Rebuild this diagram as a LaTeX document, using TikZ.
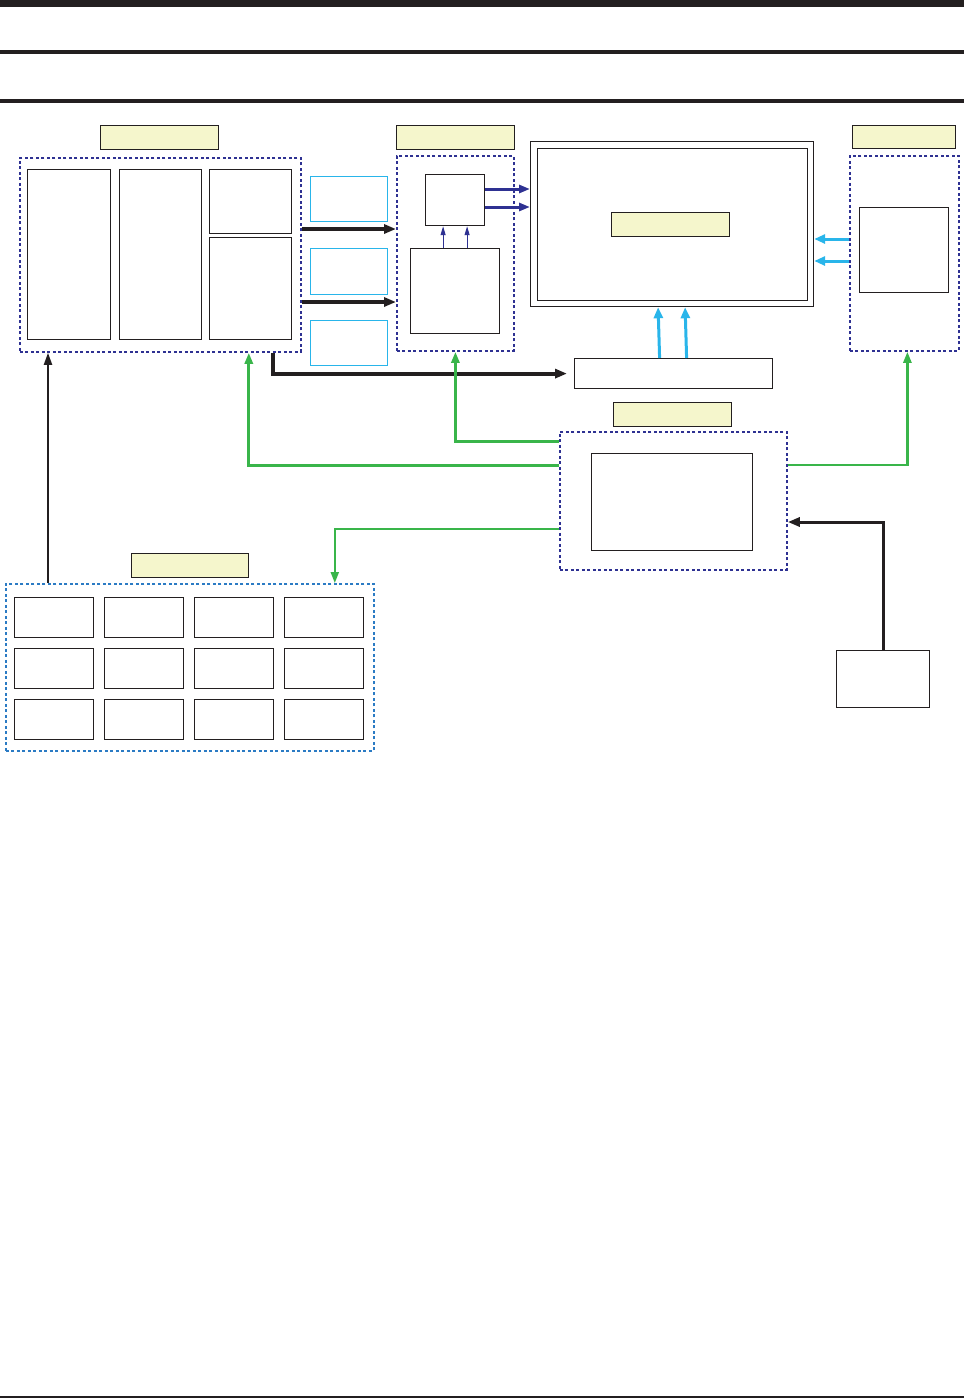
\documentclass[tikz,border=0pt]{standalone}
\usepackage{xcolor}
\usepackage{tikz}
\usetikzlibrary{
  arrows.meta,
  positioning,
  calc
}
\definecolor{DarkLine}{HTML}{231F20}
\definecolor{TagYellow}{HTML}{F5F6CC}
\definecolor{GroupNavy}{HTML}{2E3192}
\definecolor{GroupBlue}{HTML}{2B7BC4}
\definecolor{SigCyan}{HTML}{29B5EA}
\definecolor{CtrlGreen}{HTML}{39B54A}
\tikzset{
  box/.style={
    draw=DarkLine,
    line width=1.2pt,
    fill=white,
    inner sep=0pt,
    anchor=north west
  },
  tag/.style={
    box,
    fill=TagYellow
  },
  sigbox/.style={
    box,
    draw=SigCyan
  },
  group/.style={
    draw=GroupNavy,
    line width=1.8pt,
    dash pattern=on 3pt off 2.5pt,
    inner sep=0pt,
    anchor=north west
  },
  keygroup/.style={
    group,
    draw=GroupBlue
  },
  bus/.style={
    -{Triangle[length=12pt,width=9pt]},
    line width=4pt,
    draw=DarkLine
  },
  control/.style={
    -{Triangle[length=11pt,width=8pt]},
    line width=3pt,
    draw=CtrlGreen
  },
  video/.style={
    -{Triangle[length=11pt,width=8pt]},
    line width=3pt,
    draw=GroupNavy
  },
  light/.style={
    -{Triangle[length=11pt,width=9pt]},
    line width=3pt,
    draw=SigCyan
  },
  feed/.style={
    -{Triangle[length=9pt,width=5pt]},
    line width=1pt,
    draw=GroupNavy
  }
}
\begin{document}
\begin{tikzpicture}[x=1pt,y=-1pt]

  \useasboundingbox (0,0) rectangle (964,1398);

  % page rules
  \fill[DarkLine] (0,0) rectangle (964,7);
  \fill[DarkLine] (0,50) rectangle (964,53.5);
  \fill[DarkLine] (0,99) rectangle (964,102.5);
  \fill[DarkLine] (0,1396) rectangle (964,1398);

  % main board
  \node[tag, minimum width=118pt, minimum height=24pt] (maintag) at (100,125) {};
  \node[group, minimum width=281pt, minimum height=194pt] (mainboard) at (19,157) {};
  \node[box, minimum width=83pt, minimum height=170pt] (cpuA) at (27,169) {};
  \node[box, minimum width=82pt, minimum height=170pt] (cpuB) at (119,169) {};
  \node[box, minimum width=82pt, minimum height=64pt] (memA) at (209,169) {};
  \node[box, minimum width=82pt, minimum height=102pt] (memB) at (209,237) {};

  % signal boxes
  \node[sigbox, minimum width=77pt, minimum height=45pt] (sigA) at (310,176) {};
  \node[sigbox, minimum width=77pt, minimum height=46pt] (sigB) at (310,248) {};
  \node[sigbox, minimum width=77pt, minimum height=45pt] (sigC) at (310,320) {};

  % lcd interface
  \node[tag, minimum width=118pt, minimum height=24pt] (lcdtag) at (396,125) {};
  \node[group, minimum width=117pt, minimum height=195pt] (lcdgroup) at (396,155) {};
  \node[box, minimum width=59pt, minimum height=51pt] (tcon) at (425,174) {};
  \node[box, minimum width=89pt, minimum height=85pt] (driver) at (410,248) {};

  % panel
  \node[box, minimum width=283pt, minimum height=165pt] (panel) at (530,141) {};
  \node[box, minimum width=270pt, minimum height=152pt] (panelin) at (537,148) {};
  \node[tag, minimum width=118pt, minimum height=24pt] (paneltag) at (611,212) {};
  \node[box, minimum width=198pt, minimum height=30pt] (gatebus) at (574,358) {};

  % backlight
  \node[tag, minimum width=103pt, minimum height=23pt] (bltag) at (852,125) {};
  \node[group, minimum width=109pt, minimum height=195pt] (blgroup) at (849,155) {};
  \node[box, minimum width=89pt, minimum height=85pt] (inverter) at (859,207) {};

  % controller
  \node[tag, minimum width=118pt, minimum height=24pt] (ctrltag) at (613,402) {};
  \node[group, minimum width=227pt, minimum height=138pt] (ctrl) at (559,431) {};
  \node[box, minimum width=161pt, minimum height=97pt] (ctrlchip) at (591,453) {};

  % keys
  \node[tag, minimum width=117pt, minimum height=24pt] (keytag) at (131,553) {};
  \node[keygroup, minimum width=368pt, minimum height=167pt] (keys) at (5,583) {};
  \foreach \r in {1,2,3} {
    \foreach \c in {1,...,4} {
      \node[box, minimum width=79pt, minimum height=40pt]
      (key\r\c) at ({14+90*(\c-1)},{597+51*(\r-1)}) {};
    }
  }

  % power input
  \node[box, minimum width=93pt, minimum height=57pt] (power) at (836,650) {};

  % buses
  \draw[bus]
  (mainboard.east |- 0,229) --
  (lcdgroup.west |- 0,229);

  \draw[bus]
  (mainboard.east |- 0,302) --
  (lcdgroup.west |- 0,302);

  \draw[bus, shorten >=7pt]
  ($(mainboard.south east)+(-29,0)$) |-
  (gatebus.west);

  \draw[bus, line width=2pt, -{Triangle[length=12pt,width=8pt]}]
  ($(keys.north west)+(43,0)$) --
  ($(mainboard.south west)+(29,0)$);

  \draw[bus, line width=3pt]
  (power.north) |-
  (ctrl.east |- 0,522);

  % video and light
  \draw[video]
  (tcon.east |- 0,189) --
  (panel.west |- 0,189);

  \draw[video]
  (tcon.east |- 0,207) --
  (panel.west |- 0,207);

  \draw[feed]
  ($(driver.north)+(-12,0)$) --
  ($(tcon.south)+(-12,0)$);

  \draw[feed]
  ($(driver.north)+(12,0)$) --
  ($(tcon.south)+(12,0)$);

  \draw[light]
  ($(gatebus.north)+(-14,0)$) --
  ($(panel.south)+(-14,0)$);

  \draw[light]
  ($(gatebus.north)+(13,0)$) --
  ($(panel.south)+(13,0)$);

  \draw[light]
  (blgroup.west |- 0,239) --
  (panel.east |- 0,239);

  \draw[light]
  (blgroup.west |- 0,261) --
  (panel.east |- 0,261);

  % control lines
  \draw[control]
  (ctrl.west |- 0,441) -|
  (lcdgroup.south);

  \draw[control]
  (ctrl.west |- 0,465) -|
  ($(mainboard.south east)+(-53,0)$);

  \draw[control, line width=2.5pt]
  (ctrl.east |- 0,465) -|
  ($(blgroup.south)+(3,0)$);

  \draw[control, line width=2pt]
  (ctrl.west |- 0,529) -|
  ($(keys.north east)+(-40,0)$);

\end{tikzpicture}
\end{document}
